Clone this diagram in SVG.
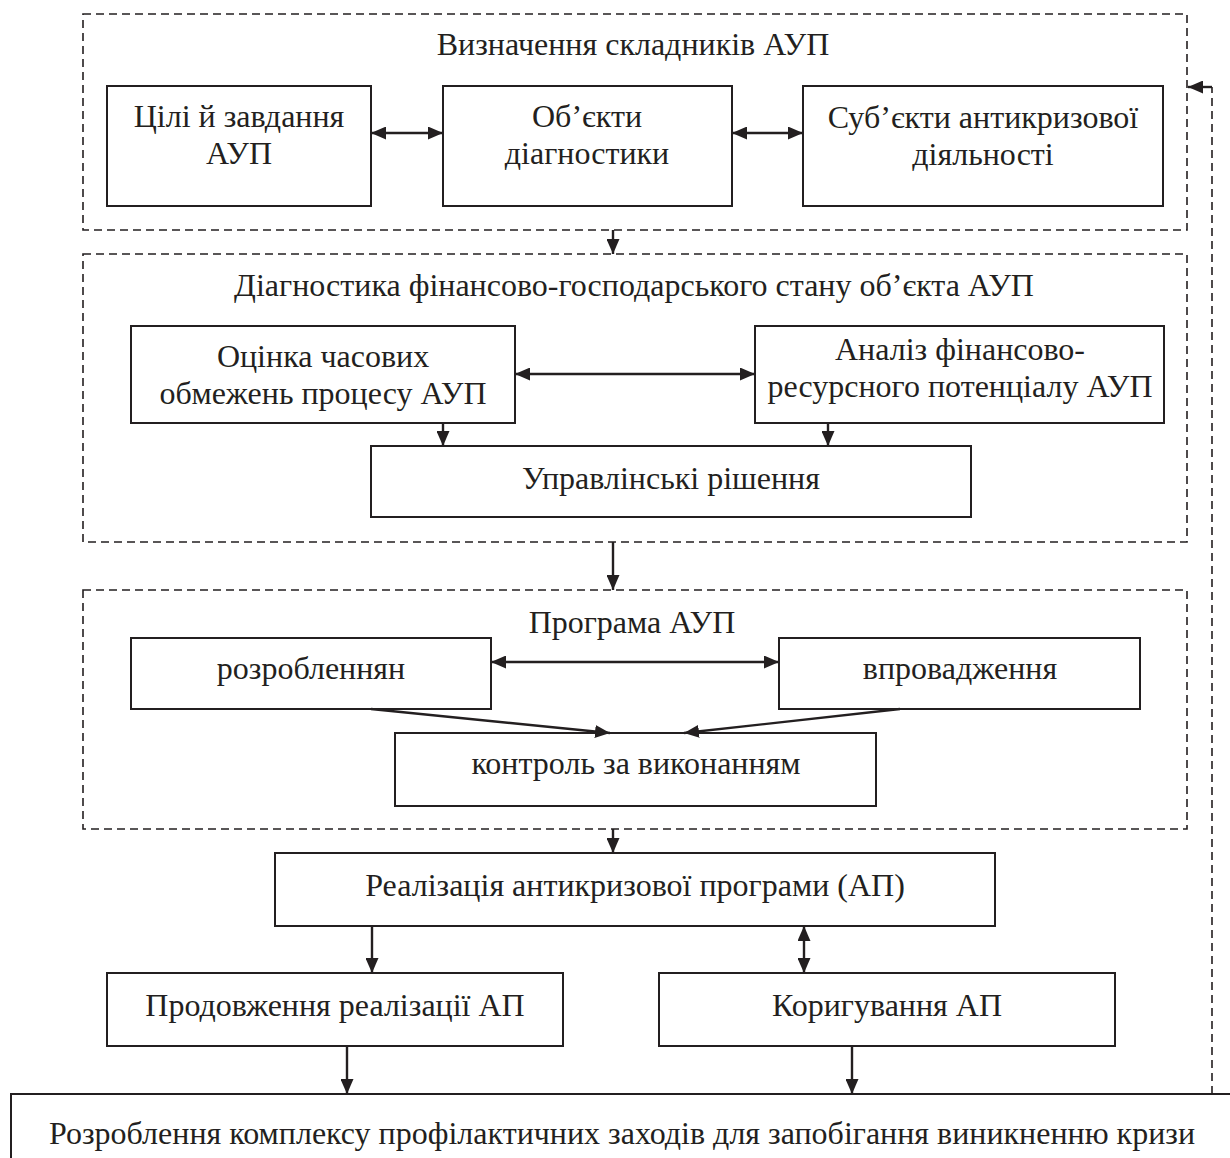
<svg xmlns="http://www.w3.org/2000/svg" width="1230" height="1158" viewBox="0 0 1230 1158">
<style>
  .t{font-family:"Liberation Serif","Times New Roman",serif;font-size:32px;fill:#231f20;text-anchor:middle}
  .b{fill:#fff;stroke:#231f20;stroke-width:2}
  .d{fill:none;stroke:#231f20;stroke-width:1.6;stroke-dasharray:8 5}
  .c{fill:none;stroke:#231f20;stroke-width:2.4}
  .cd{fill:none;stroke:#231f20;stroke-width:1.6;stroke-dasharray:8 5}
</style>
<defs>
  <marker id="ah" markerUnits="userSpaceOnUse" markerWidth="15" markerHeight="13" refX="15" refY="6.5" orient="auto-start-reverse" viewBox="0 0 15 13">
    <path d="M0,0 L15,6.5 L0,13 z" fill="#231f20"/>
  </marker>
</defs>
<rect width="1230" height="1158" fill="#fff"/>

<g id="group1">
  <rect class="d" x="83" y="14" width="1104" height="216"/>
  <text class="t" x="633" y="55">Визначення складників АУП</text>
</g>
<g id="goals">
  <rect class="b" x="107" y="86" width="264" height="120"/>
  <text class="t" x="239" y="127">Цілі й завдання</text>
  <text class="t" x="239" y="164">АУП</text>
</g>
<g id="objects">
  <rect class="b" x="443" y="86" width="289" height="120"/>
  <text class="t" x="587" y="127">Об’єкти</text>
  <text class="t" x="587" y="164">діагностики</text>
</g>
<g id="subjects">
  <rect class="b" x="803" y="86" width="360" height="120"/>
  <text class="t" x="983" y="128">Суб’єкти антикризової</text>
  <text class="t" x="983" y="165">діяльності</text>
</g>

<g id="group2">
  <rect class="d" x="83" y="254" width="1104" height="288"/>
  <text class="t" x="634" y="296">Діагностика фінансово-господарського стану об’єкта АУП</text>
</g>
<g id="time">
  <rect class="b" x="131" y="326" width="384" height="97"/>
  <text class="t" x="323" y="367">Оцінка часових</text>
  <text class="t" x="323" y="404">обмежень процесу АУП</text>
</g>
<g id="analysis">
  <rect class="b" x="755" y="326" width="409" height="97"/>
  <text class="t" x="960" y="360">Аналіз фінансово-</text>
  <text class="t" x="960" y="397">ресурсного потенціалу АУП</text>
</g>
<g id="decisions">
  <rect class="b" x="371" y="446" width="600" height="71"/>
  <text class="t" x="671" y="489">Управлінські рішення</text>
</g>

<g id="group3">
  <rect class="d" x="83" y="590" width="1104" height="239"/>
  <text class="t" x="632" y="633">Програма АУП</text>
</g>
<g id="develop">
  <rect class="b" x="131" y="638" width="360" height="71"/>
  <text class="t" x="311" y="679">розробленнян</text>
</g>
<g id="implement">
  <rect class="b" x="779" y="638" width="361" height="71"/>
  <text class="t" x="960" y="679">впровадження</text>
</g>
<g id="control">
  <rect class="b" x="395" y="733" width="481" height="73"/>
  <text class="t" x="636" y="774">контроль за виконанням</text>
</g>

<g id="realization">
  <rect class="b" x="275" y="853" width="720" height="73"/>
  <text class="t" x="635" y="896">Реалізація антикризової програми (АП)</text>
</g>
<g id="continue">
  <rect class="b" x="107" y="973" width="456" height="73"/>
  <text class="t" x="335" y="1016">Продовження реалізації АП</text>
</g>
<g id="correct">
  <rect class="b" x="659" y="973" width="456" height="73"/>
  <text class="t" x="887" y="1016">Коригування АП</text>
</g>
<g id="prevention">
  <rect class="b" x="11" y="1094" width="1240" height="80"/>
  <text class="t" x="622" y="1144">Розроблення комплексу профілактичних заходів для запобігання виникненню кризи</text>
</g>

<g id="connectors">
  <line class="c" x1="371" y1="133" x2="443" y2="133" marker-start="url(#ah)" marker-end="url(#ah)"/>
  <line class="c" x1="732" y1="133" x2="803" y2="133" marker-start="url(#ah)" marker-end="url(#ah)"/>
  <line class="c" x1="613" y1="230" x2="613" y2="254" marker-end="url(#ah)"/>
  <line class="c" x1="515" y1="374" x2="755" y2="374" marker-start="url(#ah)" marker-end="url(#ah)"/>
  <line class="c" x1="443" y1="423" x2="443" y2="446" marker-end="url(#ah)"/>
  <line class="c" x1="828" y1="423" x2="828" y2="446" marker-end="url(#ah)"/>
  <line class="c" x1="613" y1="542" x2="613" y2="590" marker-end="url(#ah)"/>
  <line class="c" x1="491" y1="662" x2="779" y2="662" marker-start="url(#ah)" marker-end="url(#ah)"/>
  <line class="c" x1="371" y1="709" x2="610" y2="733" marker-end="url(#ah)"/>
  <line class="c" x1="900" y1="709" x2="684" y2="733" marker-end="url(#ah)"/>
  <line class="c" x1="613" y1="829" x2="613" y2="853" marker-end="url(#ah)"/>
  <line class="c" x1="372" y1="926" x2="372" y2="973" marker-end="url(#ah)"/>
  <line class="c" x1="804" y1="926" x2="804" y2="973" marker-start="url(#ah)" marker-end="url(#ah)"/>
  <line class="c" x1="347" y1="1046" x2="347" y2="1094" marker-end="url(#ah)"/>
  <line class="c" x1="852" y1="1046" x2="852" y2="1094" marker-end="url(#ah)"/>
  <line class="cd" x1="1212" y1="1094" x2="1212" y2="87"/>
  <line class="c" x1="1212" y1="87" x2="1188" y2="87" marker-end="url(#ah)"/>
</g>
</svg>
